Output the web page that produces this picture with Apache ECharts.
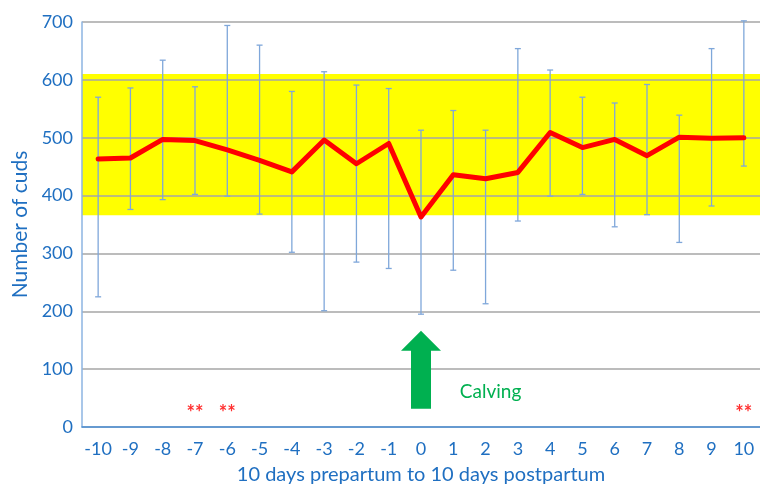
<!DOCTYPE html>
<html>
<head>
<meta charset="utf-8">
<script src="https://cdn.jsdelivr.net/npm/echarts@6/dist/echarts.min.js"></script>
<style>
html,body{margin:0;padding:0;background:#fff;}
#chart{width:760px;height:490px;}
</style>
</head>
<body>
<div id="chart"></div>
<script>
const days = ['-10','-9','-8','-7','-6','-5','-4','-3','-2','-1','0','1','2','3','4','5','6','7','8','9','10'];
const meanCuds = [463,465,497,495,479,461,441,496,455,490,363,436,429,440,509,483,497,469,501,499,500];
const errLow  = [225,376,393,402,399,368,302,201,285,274,195,271,213,356,399,402,346,367,319,382,451];
const errHigh = [570,586,634,588,694,660,580,614,591,585,513,547,513,654,617,570,560,592,539,654,702];
const normalBand = [366, 610];
const asteriskDays = ['-7','-6','10'];
const asteriskLevel = 30;
const calvingDay = '0';
const calvingArrowLevel = 99;
const calvingLabelDay = '2';
const calvingLabelLevel = 61;

const FONT = 'Lato';
const BLUE = '#1F6FC1';

const chart = echarts.init(document.getElementById('chart'));

const errData = days.map((d, i) => [d, errLow[i], errHigh[i]]);

const markPts = asteriskDays.map(d => ({
  coord: [d, asteriskLevel], symbol: 'circle', symbolSize: 1,
  itemStyle: {color: 'rgba(0,0,0,0)'},
  label: {show: true, position: 'inside', formatter: '**', color: '#FF3030', fontSize: 20, fontWeight: 'bold', fontFamily: FONT, offset: [0, 4]}
}));
markPts.push({
  coord: [calvingDay, calvingArrowLevel],
  symbol: 'path://M20,0 L40,20 L30,20 L30,78 L10,78 L10,20 L0,20 Z',
  symbolSize: [40, 78], symbolKeepAspect: false,
  itemStyle: {color: '#00B050'},
  label: {show: false}
});
markPts.push({
  coord: [calvingLabelDay, calvingLabelLevel], symbol: 'circle', symbolSize: 1,
  itemStyle: {color: 'rgba(0,0,0,0)'},
  label: {show: true, position: 'inside', formatter: 'Calving', color: '#00B050', fontSize: 19, fontFamily: FONT, offset: [5, 0]}
});

chart.setOption({
  animation: false,
  grid: {left: 82, top: 22, width: 682.5, height: 411},
  xAxis: {
    type: 'category', data: days, boundaryGap: true, z: 3,
    axisLine: {lineStyle: {color: '#4A8FD6', width: 1.5}},
    axisTick: {alignWithLabel: true, length: 5, lineStyle: {color: '#4A8FD6', width: 1.2}},
    axisLabel: {color: BLUE, fontSize: 18, fontFamily: FONT, margin: 13, interval: 0},
    name: '10 days prepartum to 10 days postpartum', nameLocation: 'middle', nameGap: 38,
    nameTextStyle: {color: BLUE, fontSize: 20, fontFamily: FONT}
  },
  yAxis: {
    type: 'value', min: 0, max: 700, interval: 100, z: 1,
    axisLine: {show: true, lineStyle: {color: '#8DB4E2', width: 1.5}},
    axisTick: {show: false},
    splitLine: {lineStyle: {color: '#A6A6A6', width: 1.5}},
    axisLabel: {color: BLUE, fontSize: 18, fontFamily: FONT, margin: 9},
    name: 'Number of cuds', nameLocation: 'middle', nameGap: 51,
    nameTextStyle: {color: BLUE, fontSize: 21, fontFamily: FONT}
  },
  series: [
    {
      type: 'custom', z: 0, silent: true,
      data: [[calvingDay, normalBand[0], normalBand[1]]],
      encode: {x: 0, y: [1, 2]},
      renderItem: function (params, api) {
        const cs = params.coordSys;
        const lo = api.coord([api.value(0), api.value(1)]);
        const hi = api.coord([api.value(0), api.value(2)]);
        return {type: 'rect', shape: {x: cs.x, y: hi[1], width: cs.width, height: lo[1] - hi[1]}, style: {fill: '#FFFF00'}};
      }
    },
    {
      type: 'custom', z: 2, silent: true, clip: false,
      data: errData,
      encode: {x: 0, y: [1, 2]},
      renderItem: function (params, api) {
        const lo = api.coord([api.value(0), api.value(1)]);
        const hi = api.coord([api.value(0), api.value(2)]);
        const c = 3;
        const st = {stroke: '#7FA7DA', lineWidth: 1.3};
        return {type: 'group', children: [
          {type: 'line', shape: {x1: lo[0], y1: lo[1], x2: hi[0], y2: hi[1]}, style: st},
          {type: 'line', shape: {x1: lo[0]-c, y1: lo[1], x2: lo[0]+c, y2: lo[1]}, style: st},
          {type: 'line', shape: {x1: hi[0]-c, y1: hi[1], x2: hi[0]+c, y2: hi[1]}, style: st}
        ]};
      }
    },
    {
      type: 'line', z: 3, data: meanCuds, symbol: 'none',
      lineStyle: {color: '#FF0000', width: 5, cap: 'round', join: 'round'},
      markPoint: {data: markPts, animation: false}
    }
  ]
});
</script>
</body>
</html>
